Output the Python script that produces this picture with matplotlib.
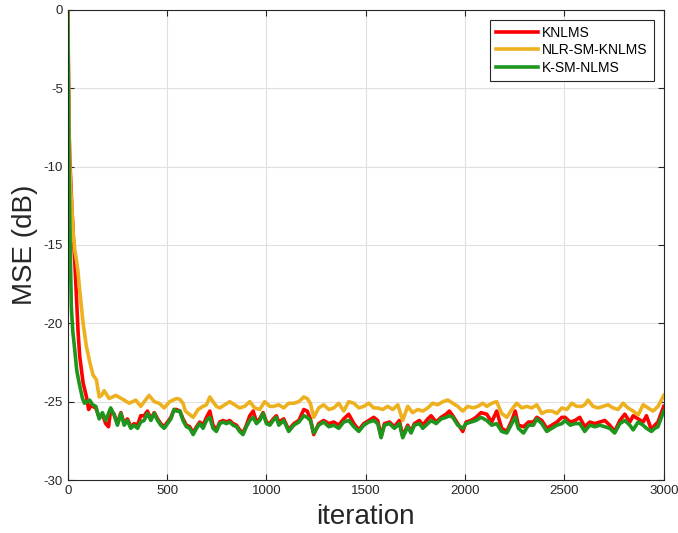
import numpy as np
import matplotlib.pyplot as plt

plt.rcParams['font.family'] = ['Liberation Sans', 'DejaVu Sans']
plt.rcParams['axes.unicode_minus'] = False

# KNLMS (red)
it_knlms = [0, 3, 6, 10, 15, 20, 28, 35, 44, 52, 60, 77, 94, 105, 119,
            125, 141, 158, 174, 191, 205, 216, 233, 250, 267, 284, 300, 317, 334, 351, 367,
            384, 401, 418, 435, 452, 468, 485, 502, 519, 535, 547, 564, 580, 597, 614, 631,
            648, 664, 681, 698, 715, 731, 748, 765, 782, 798, 815, 832, 849, 865, 882, 899,
            916, 933, 950, 966, 983, 1000, 1017, 1034, 1050, 1062, 1087, 1112, 1138, 1163,
            1188, 1205, 1221, 1238, 1263, 1288, 1314, 1339, 1364, 1389, 1414, 1440, 1465,
            1490, 1515, 1540, 1560, 1577, 1594, 1619, 1644, 1669, 1686, 1711, 1728, 1745,
            1770, 1787, 1812, 1829, 1854, 1879, 1904, 1921, 1938, 1963, 1988, 2005, 2030,
            2055, 2080, 2109, 2134, 2159, 2184, 2210, 2235, 2252, 2268, 2294, 2319, 2344,
            2361, 2386, 2411, 2437, 2462, 2487, 2503, 2529, 2554, 2577, 2602, 2628, 2653,
            2678, 2703, 2728, 2753, 2779, 2804, 2829, 2846, 2871, 2896, 2913, 2938, 2955,
            2971, 2988, 3000]
mse_knlms = [0, -4, -7.5, -9.5, -11, -12.5, -14.5, -16, -18.5, -20.6, -22.1, -23.8, -24.7, -25.5, -25.2,
             -25.3, -25.4, -26.0, -25.8, -26.4, -26.6, -25.5, -25.8, -26.4, -25.7, -26.4, -26.1, -26.6, -26.4, -26.5, -25.9,
             -25.9, -25.6, -26.1, -25.7, -26.1, -26.4, -26.6, -26.3, -26.0, -25.5, -25.5, -25.6, -26.1, -26.5, -26.6, -27.0,
             -26.6, -26.3, -26.5, -26.0, -25.6, -26.5, -26.8, -26.3, -26.2, -26.3, -26.2, -26.4, -26.5, -26.8, -27.0, -26.5,
             -25.9, -25.6, -26.3, -26.1, -25.7, -26.3, -26.4, -26.1, -25.9, -26.3, -26.1, -26.8, -26.4, -26.2,
             -25.5, -25.6, -26.1, -27.1, -26.4, -26.2, -26.4, -26.3, -26.5, -26.1, -25.8, -26.4, -26.8,
             -26.4, -26.2, -26.0, -26.2, -27.2, -26.4, -26.3, -26.6, -26.2, -27.2, -26.5, -26.9, -26.4,
             -26.2, -26.5, -26.1, -25.9, -26.3, -26.0, -25.8, -25.6, -25.9, -26.4, -26.9, -26.3, -26.2,
             -26.0, -25.7, -25.8, -26.3, -25.6, -26.7, -26.9, -26.2, -25.6, -26.5, -26.6, -26.3, -26.3,
             -26.0, -26.2, -26.7, -26.5, -26.3, -26.0, -26.0, -26.3, -26.2, -26.0, -26.6, -26.3, -26.4,
             -26.3, -26.2, -26.5, -26.9, -26.2, -25.8, -26.3, -25.9, -26.1, -26.3, -25.9, -26.8, -26.5,
             -26.3, -25.7, -25.3]

# NLR-SM-KNLMS (yellow)
it_nlr = [0, 3, 6, 10, 15, 20, 27, 35, 44, 52, 60, 77, 94, 111, 127, 144, 158, 170, 183,
          208, 242, 284, 309, 342, 367, 409, 435, 460, 485, 513, 530, 547, 564, 580, 592,
          631, 656, 681, 698, 715, 731, 748, 765, 790, 815, 840, 865, 890, 916, 941, 966,
          991, 1017, 1037, 1062, 1087, 1112, 1138, 1163, 1188, 1205, 1221, 1238, 1263,
          1288, 1314, 1339, 1364, 1389, 1414, 1440, 1465, 1490, 1515, 1540, 1560, 1585,
          1610, 1636, 1661, 1686, 1711, 1736, 1762, 1787, 1812, 1837, 1862, 1888, 1913,
          1938, 1963, 1988, 2013, 2039, 2064, 2089, 2109, 2134, 2159, 2184, 2210, 2235,
          2260, 2285, 2310, 2336, 2361, 2386, 2411, 2437, 2462, 2487, 2512, 2537, 2562,
          2587, 2602, 2619, 2644, 2669, 2695, 2720, 2745, 2770, 2795, 2820, 2846, 2871,
          2896, 2921, 2946, 2971, 2988, 3000]
mse_nlr = [0, -4, -7.5, -10, -11.5, -12.5, -14.3, -15.3, -16.0, -16.8, -17.9, -20.0, -21.5, -22.5, -23.3, -23.6, -24.7, -24.6, -24.3,
           -24.8, -24.6, -24.9, -25.1, -24.9, -25.3, -24.6, -25.0, -25.1, -25.4, -25.0, -24.9, -24.8, -24.85, -25.1, -25.6,
           -26.0, -25.5, -25.3, -25.2, -24.7, -25.0, -25.3, -25.4, -25.2, -25.0, -25.2, -25.4, -25.3, -25.0, -25.4, -25.5,
           -25.0, -25.3, -25.3, -25.2, -25.4, -25.1, -25.1, -25.0, -24.7, -24.8, -25.1, -26.0, -25.4,
           -25.2, -25.5, -25.4, -25.1, -25.6, -25.0, -25.1, -25.4, -25.3, -25.1, -25.4, -25.4, -25.5,
           -25.3, -25.5, -25.2, -26.2, -25.3, -25.7, -25.5, -25.6, -25.4, -25.1, -25.2, -25.0, -24.9,
           -25.1, -25.3, -25.6, -25.3, -25.4, -25.3, -25.1, -25.3, -25.1, -25.0, -25.75, -26.0, -25.5,
           -25.1, -25.4, -25.3, -25.4, -25.2, -25.75, -25.6, -25.6, -25.75, -25.4, -25.5, -25.1, -25.3,
           -25.3, -25.2, -24.9, -25.3, -25.4, -25.3, -25.2, -25.4, -25.5, -25.1, -25.4, -25.6, -25.85,
           -25.2, -25.4, -25.6, -25.3, -24.9, -24.6]

# K-SM-NLMS (green)
it_ksm = [0, 3, 6, 10, 14, 18, 25, 35, 45, 57, 74, 84, 96, 110,
          125, 141, 158, 174, 191, 216, 233, 250, 267, 284, 300, 317, 334, 351, 367,
          384, 401, 418, 435, 452, 468, 485, 502, 519, 535, 547, 564, 580, 597, 614, 631,
          648, 664, 681, 698, 715, 731, 748, 765, 782, 798, 815, 832, 849, 865, 882, 899,
          916, 933, 950, 966, 983, 1000, 1017, 1034, 1050, 1062, 1087, 1112, 1138, 1163,
          1188, 1205, 1221, 1238, 1263, 1288, 1314, 1339, 1364, 1389, 1414, 1440, 1465,
          1490, 1515, 1540, 1560, 1577, 1594, 1619, 1644, 1669, 1686, 1711, 1728, 1745,
          1770, 1787, 1812, 1829, 1854, 1879, 1904, 1921, 1938, 1963, 1988, 2005, 2030,
          2055, 2080, 2109, 2134, 2159, 2184, 2210, 2235, 2252, 2268, 2294, 2319, 2344,
          2361, 2386, 2411, 2437, 2462, 2487, 2503, 2529, 2554, 2577, 2602, 2628, 2653,
          2678, 2703, 2728, 2753, 2779, 2804, 2829, 2846, 2871, 2896, 2913, 2938, 2955,
          2971, 2988, 3000]
mse_ksm = [0, -5, -10, -13.5, -16.5, -19, -20.5, -21.7, -23, -23.8, -24.8, -25.1, -25.0, -24.9,
           -25.2, -25.3, -26.1, -25.7, -26.2, -25.4, -25.85, -26.5, -25.75, -26.5, -26.2, -26.7, -26.5, -26.7, -26.3,
           -26.2, -25.75, -26.2, -25.75, -26.2, -26.5, -26.7, -26.4, -26.1, -25.5, -25.6, -25.6, -26.2, -26.6, -26.7, -27.1,
           -26.7, -26.4, -26.7, -26.2, -26.0, -26.7, -26.9, -26.4, -26.3, -26.4, -26.3, -26.5, -26.6, -26.9, -27.1, -26.6,
           -26.2, -26.0, -26.4, -26.2, -25.75, -26.4, -26.5, -26.2, -26.0, -26.5, -26.2, -26.9, -26.5, -26.3,
           -25.9, -26.0, -26.2, -27.0, -26.5, -26.3, -26.6, -26.5, -26.7, -26.3, -26.2, -26.6, -26.9,
           -26.5, -26.3, -26.2, -26.4, -27.3, -26.5, -26.4, -26.7, -26.4, -27.3, -26.6, -27.0, -26.5,
           -26.4, -26.7, -26.4, -26.2, -26.4, -26.1, -26.0, -25.9, -26.0, -26.5, -26.7, -26.4, -26.3,
           -26.2, -26.0, -26.2, -26.5, -26.4, -26.9, -27.0, -26.4, -26.0, -26.7, -27.0, -26.5, -26.5,
           -26.1, -26.4, -26.9, -26.7, -26.5, -26.4, -26.2, -26.5, -26.4, -26.4, -26.9, -26.5, -26.6,
           -26.5, -26.6, -26.7, -27.0, -26.4, -26.2, -26.5, -26.8, -26.3, -26.5, -26.7, -26.9, -26.7,
           -26.6, -26.0, -25.6]

fig = plt.figure(figsize=(6.78, 5.33), dpi=100)
ax = fig.add_axes([0.100, 0.0994, 0.879, 0.882])

ax.plot(it_knlms, mse_knlms, color='#FF0000', lw=2.6, label='KNLMS')
ax.plot(it_nlr, mse_nlr, color='#EDB120', lw=2.6, label='NLR-SM-KNLMS')
ax.plot(it_ksm, mse_ksm, color='#1E961E', lw=2.6, label='K-SM-NLMS')

ax.set_xlim(0, 3000)
ax.set_ylim(-30, 0)
ax.set_xticks(np.arange(0, 3001, 500))
ax.set_yticks(np.arange(-30, 1, 5))
ax.grid(True, color='#E0E0E0', lw=0.8)
ax.tick_params(direction='in', top=True, right=True, labelsize=9.5, colors='#262626', length=4)
for s in ax.spines.values():
    s.set_color('#262626')
    s.set_linewidth(0.8)

ax.set_xlabel('iteration', fontsize=20, color='#262626', labelpad=5)
ax.set_ylabel('MSE (dB)', fontsize=20, color='#262626', labelpad=4)

leg = ax.legend(loc='upper right', fontsize=10, fancybox=False, framealpha=1,
                edgecolor='#262626', handlelength=3.0, handletextpad=0.3,
                borderaxespad=0.7, borderpad=0.45, labelspacing=0.25)
leg.get_frame().set_linewidth(0.8)

plt.savefig('out.png', dpi=100)
